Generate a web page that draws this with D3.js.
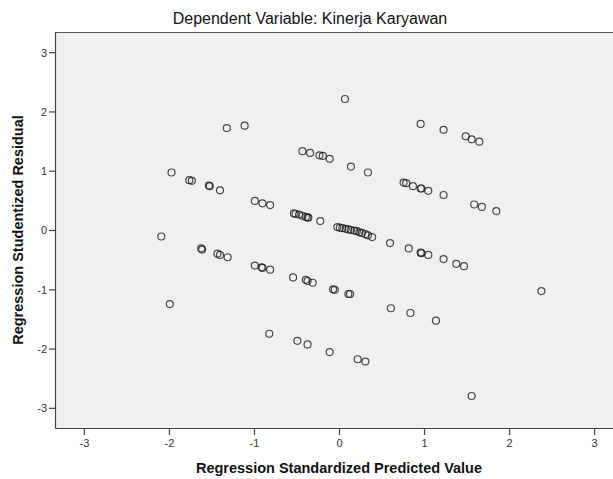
<!DOCTYPE html>
<html><head><meta charset="utf-8">
<script src="https://cdn.jsdelivr.net/npm/d3@7"></script>
<style>html,body{margin:0;padding:0;background:#fff;overflow:hidden}</style>
</head><body>
<svg id="chart" width="613" height="479"></svg>
<script>
const titleText = "Dependent Variable: Kinerja Karyawan";
const xTitle = "Regression Standardized Predicted Value";
const yTitle = "Regression Studentized Residual";
const xTicks = [-3, -2, -1, 0, 1, 2, 3];
const yTicks = [-3, -2, -1, 0, 1, 2, 3];
const predicted = [
  0.07, -1.32, -1.11, 0.96, 1.23, 1.49, 1.56, 1.65, -0.43, -0.34, -0.23, -0.19, -0.11, 0.14, 0.34,
  -1.97, -1.76, -1.73, -1.53, -1.52, -1.40, -0.99, -0.90, -0.81, 0.76, 0.79, 0.87, 0.96, 0.97, 1.05, 1.23, 1.59, 1.68, 1.85,
  -0.53, -0.51, -0.47, -0.43, -0.39, -0.37, -0.36, -0.22,
  -0.02, 0.01, 0.04, 0.08, 0.11, 0.14, 0.18, 0.21, 0.24, 0.27, 0.31, 0.34, 0.39,
  0.60, 0.82, 0.96, 0.97, 1.05, 1.23, 1.38, 1.47,
  -2.09, -1.62, -1.61, -1.43, -1.40, -1.31, -0.99, -0.91, -0.90, -0.81, -0.54, -0.39, -0.37, -0.31, -0.07, -0.05, 0.11, 0.13, 2.38,
  -1.99, 0.61, 0.84, 1.14, -0.82, -0.49, -0.37, -0.11, 0.22, 0.31, 1.56
];
const residual = [
  2.21, 1.72, 1.76, 1.79, 1.69, 1.58, 1.53, 1.49, 1.33, 1.30, 1.26, 1.25, 1.20, 1.07, 0.97,
  0.97, 0.84, 0.83, 0.75, 0.74, 0.67, 0.49, 0.45, 0.42, 0.80, 0.79, 0.74, 0.70, 0.70, 0.66, 0.59, 0.43, 0.39, 0.32,
  0.28, 0.27, 0.26, 0.24, 0.22, 0.21, 0.21, 0.15,
  0.05, 0.04, 0.03, 0.02, 0.01, 0.00, -0.01, -0.02, -0.04, -0.05, -0.07, -0.09, -0.12,
  -0.22, -0.31, -0.38, -0.39, -0.42, -0.49, -0.57, -0.61,
  -0.11, -0.31, -0.33, -0.40, -0.42, -0.46, -0.60, -0.63, -0.64, -0.67, -0.80, -0.84, -0.86, -0.89, -1.00, -1.01, -1.08, -1.08, -1.03,
  -1.25, -1.32, -1.40, -1.53, -1.75, -1.87, -1.93, -2.06, -2.18, -2.22, -2.80
];

const svg = d3.select("#chart");
const pL = 55, pT = 32, pR = 623, pB = 428;
const x = d3.scaleLinear().domain([-3.34, 3.34]).range([pL, pR]);
const y = d3.scaleLinear().domain([-3.34, 3.34]).range([pB, pT]);

svg.append("rect").attr("x", pL).attr("y", pT)
  .attr("width", pR - pL).attr("height", pB - pT).attr("fill", "#f0f0f0");

svg.append("line").attr("x1", pL).attr("x2", pR).attr("y1", pT + 0.5).attr("y2", pT + 0.5)
  .attr("stroke", "#555").attr("stroke-width", 1);

const font = "'Liberation Sans', Arial, sans-serif";

const xAxis = svg.append("g").attr("transform", `translate(0,${pB})`)
  .call(d3.axisBottom(x).tickValues(xTicks).tickSize(7).tickSizeOuter(0).tickFormat(d => String(d)));
const yAxis = svg.append("g").attr("transform", `translate(${pL},0)`)
  .call(d3.axisLeft(y).tickValues(yTicks).tickSize(6).tickSizeOuter(0).tickFormat(d => String(d)));
[xAxis, yAxis].forEach(g => {
  g.select(".domain").attr("stroke", "#444").attr("stroke-width", 1.2);
  g.selectAll(".tick line").attr("stroke", "#444").attr("stroke-width", 1.2);
  g.selectAll(".tick text").attr("fill", "#333").style("font-family", font).style("font-size", "11px");
});
xAxis.selectAll(".tick text").attr("y", 9).attr("dy", "0.95em");
yAxis.selectAll(".tick text").attr("x", -8).attr("dy", "0.35em");

svg.append("g").selectAll("circle")
  .data(predicted.map((p, i) => [p, residual[i]]))
  .join("circle")
  .attr("cx", d => x(d[0])).attr("cy", d => y(d[1]))
  .attr("r", 3.5).attr("fill", "none")
  .attr("stroke", "#1a1a1a").attr("stroke-opacity", 0.78).attr("stroke-width", 1.2);

svg.append("text").attr("x", 310).attr("y", 24).attr("text-anchor", "middle")
  .style("font-family", font).style("font-size", "16px").attr("fill", "#111").text(titleText);
svg.append("text").attr("x", x(0)).attr("y", 473).attr("text-anchor", "middle")
  .style("font-family", font).style("font-size", "14.5px").style("font-weight", "bold").attr("fill", "#111").text(xTitle);
svg.append("text").attr("transform", `translate(23,${y(0)}) rotate(-90)`).attr("text-anchor", "middle")
  .style("font-family", font).style("font-size", "14.5px").style("font-weight", "bold").attr("fill", "#111").text(yTitle);
</script>
</body></html>
